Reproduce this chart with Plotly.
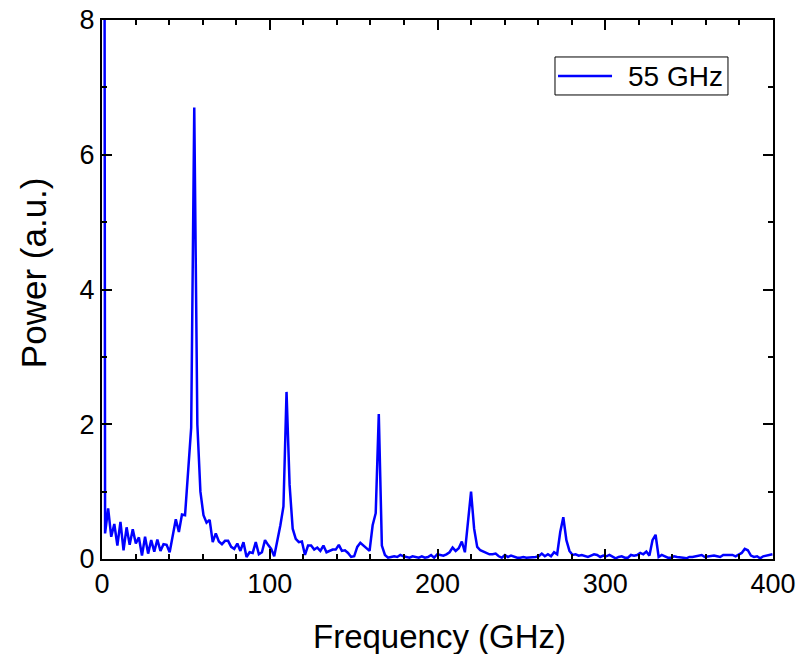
import plotly.graph_objects as go

# Frequency grid step (GHz) and sampled power values (a.u.)
step_ghz = 55 / 30
power = [
    50, 0.38, 0.75, 0.33, 0.52, 0.20, 0.55, 0.13, 0.47, 0.21,
    0.44, 0.23, 0.32, 0.05, 0.33, 0.08, 0.28, 0.11, 0.29, 0.12,
    0.22, 0.21, 0.10, 0.35, 0.59, 0.40, 0.66, 0.65, 1.30, 1.95,
    6.70, 2.00, 1.00, 0.65, 0.54, 0.58, 0.25, 0.38, 0.26, 0.22,
    0.27, 0.27, 0.18, 0.15, 0.23, 0.12, 0.25, 0.03, 0.10, 0.09,
    0.25, 0.07, 0.10, 0.28, 0.21, 0.15, 0.04, 0.26, 0.50, 0.78,
    2.48, 1.10, 0.45, 0.30, 0.25, 0.26, 0.06, 0.20, 0.20, 0.14,
    0.17, 0.12, 0.20, 0.10, 0.12, 0.14, 0.14, 0.21, 0.12, 0.13,
    0.09, 0.03, 0.04, 0.18, 0.24, 0.20, 0.15, 0.12, 0.50, 0.68,
    2.15, 0.20, 0.06, 0.02, 0.03, 0.04, 0.03, 0.06, 0.04, 0.03,
    0.02, 0.04, 0.03, 0.02, 0.04, 0.02, 0.03, 0.06, 0.02, 0.07,
    0.06, 0.05, 0.07, 0.10, 0.17, 0.12, 0.16, 0.26, 0.10, 0.60,
    1.00, 0.45, 0.18, 0.13, 0.11, 0.08, 0.07, 0.07, 0.08, 0.04,
    0.02, 0.06, 0.03, 0.05, 0.03, 0.02, 0.02, 0.03, 0.02, 0.02,
    0.02, 0.03, 0.04, 0.08, 0.04, 0.07, 0.04, 0.10, 0.07, 0.40,
    0.62, 0.28, 0.12, 0.06, 0.07, 0.05, 0.06, 0.05, 0.03, 0.05,
    0.07, 0.06, 0.03, 0.05, 0.04, 0.06, 0.04, 0.01, 0.03, 0.04,
    0.02, 0.02, 0.06, 0.05, 0.06, 0.09, 0.07, 0.11, 0.05, 0.28,
    0.36, 0.03, 0.06, 0.04, 0.02, 0.02, 0.04, 0.03, 0.03, 0.02,
    0.01, 0.03, 0.03, 0.04, 0.05, 0.06, 0.03, 0.04, 0.04, 0.05,
    0.04, 0.03, 0.06, 0.06, 0.07, 0.06, 0.04, 0.06, 0.09, 0.15,
    0.13, 0.05, 0.03, 0.04, 0.01, 0.04, 0.05, 0.05, 0.07,
]
frequency = [i * step_ghz for i in range(len(power))]

x_tickvals = [0, 100, 200, 300, 400]
y_tickvals = [0, 2, 4, 6, 8]
series_name = "55 GHz"
x_title = "Frequency (GHz)"
y_title = "Power (a.u.)"

FONT = "Liberation Sans, Arial, sans-serif"
BLUE = "#0000FF"

fig = go.Figure()
fig.add_trace(go.Scatter(
    x=frequency, y=power, mode="lines", name=series_name,
    line=dict(color=BLUE, width=2.5), showlegend=False,
))

axis_common = dict(
    showline=True, linecolor="black", linewidth=2, mirror="allticks",
    ticks="inside", ticklen=10, tickwidth=2, tickcolor="black",
    showgrid=False, zeroline=False,
    tickfont=dict(family=FONT, size=27, color="black"),
)

fig.update_xaxes(
    range=[0, 400], tickvals=x_tickvals,
    minor=dict(ticks="inside", ticklen=5, tickwidth=1.5, tickcolor="black", dtick=20, tick0=0, showgrid=False),
    **axis_common,
)
fig.update_yaxes(
    range=[0, 8], tickvals=y_tickvals,
    minor=dict(ticks="inside", ticklen=5, tickwidth=1.5, tickcolor="black", dtick=1, tick0=0, showgrid=False),
    **axis_common,
)

# Axis titles placed as annotations (paper coordinates)
fig.add_annotation(xref="paper", yref="paper", x=0.5025, y=-0.143,
                   text=x_title, showarrow=False, xanchor="center", yanchor="middle",
                   font=dict(family=FONT, size=33, color="black"))
fig.add_annotation(xref="paper", yref="paper", x=-0.103, y=0.532,
                   text=y_title, showarrow=False, textangle=-90,
                   xanchor="center", yanchor="middle",
                   font=dict(family=FONT, size=35, color="black"))

# Legend box drawn in paper coordinates
fig.add_shape(type="rect", xref="paper", yref="paper",
              x0=0.6751, x1=0.9329, y0=0.8609, y1=0.9314,
              line=dict(color="black", width=1), fillcolor="white", layer="above")
fig.add_shape(type="line", xref="paper", yref="paper",
              x0=0.6796, x1=0.7601, y0=0.8961, y1=0.8961,
              line=dict(color=BLUE, width=2.5), layer="above")
fig.add_annotation(xref="paper", yref="paper", x=0.7810, y=0.8961,
                   text=series_name, showarrow=False, xanchor="left", yanchor="middle",
                   font=dict(family=FONT, size=28, color="black"))

fig.update_layout(
    width=812, height=654,
    margin=dict(l=102, r=39, t=20, b=95, autoexpand=False),
    plot_bgcolor="white", paper_bgcolor="white",
    showlegend=False,
)

fig.write_html("out.html", config={"displayModeBar": False},
               post_script="document.body.style.margin='0px';")
